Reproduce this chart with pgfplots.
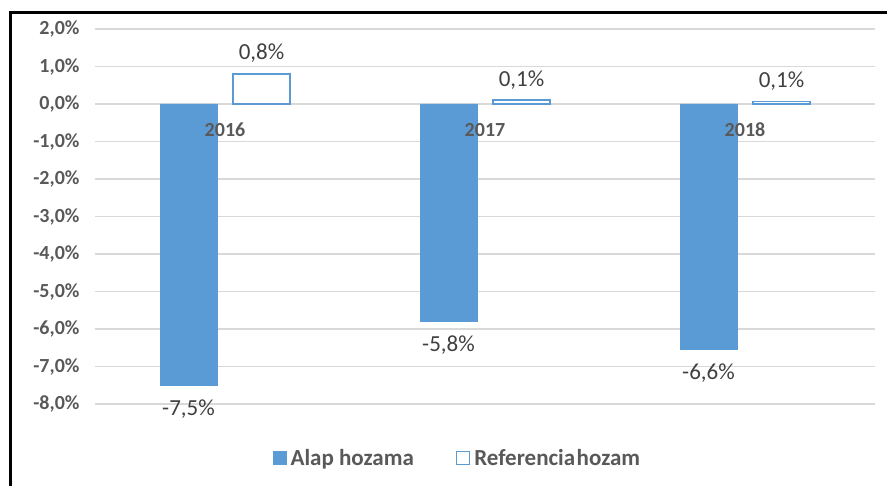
\documentclass[border=0pt]{standalone}
\usepackage{fontspec}
\setmainfont{Carlito}
\usepackage{pgfplots}
\pgfplotsset{compat=1.18}
\definecolor{barblue}{HTML}{5B9BD5}
\definecolor{txtgray}{HTML}{595959}
\definecolor{lblgray}{HTML}{404040}
\definecolor{gridgray}{HTML}{D9D9D9}

\begin{document}
\begin{tikzpicture}
\useasboundingbox (0bp,0bp) rectangle (887bp,486bp);
\draw[line width=3bp] (10bp,0bp) -- (10bp,473bp) -- (887bp,473bp);
\begin{axis}[
    at={(95bp,82bp)}, anchor=south west,
    scale only axis, width=780bp, height=375bp,
    ymin=-8, ymax=2, ytick={-8,-7,...,2},
    xmin=-0.5, xmax=2.5, xtick=\empty,
    ybar=16bp, bar width=57bp,
    axis line style={draw=none}, tick style={draw=none},
    ymajorgrids, grid style={gridgray, line width=1.5bp},
    yticklabel={\pgfmathprintnumber[fixed,fixed zerofill,precision=1,use comma,assume math mode=true]{\tick}\%},
    yticklabel style={font=\fontsize{20bp}{24bp}\selectfont\bfseries, text=txtgray, xshift=-12bp},
    point meta=explicit symbolic,
    nodes near coords,
    every node near coord/.append style={font=\fontsize{23bp}{27bp}\selectfont, text=lblgray},
    legend columns=2,
    legend style={at={(0.465,-0.144)}, anchor=center, draw=none,
        font=\fontsize{23bp}{27bp}\selectfont\bfseries, text=txtgray,
        /tikz/every odd column/.append style={column sep=2bp},
        /tikz/every even column/.append style={column sep=40bp}},
    legend image code/.code={\draw[#1] (0bp,-6.5bp) rectangle (13bp,6.5bp);},
]
% Alap hozama
\addplot[fill=barblue, draw=barblue,
    every node near coord/.append style={anchor=north, yshift=-11bp}] coordinates {
    (0,-7.5) [-7,5\%] (1,-5.8) [-5,8\%] (2,-6.55) [-6,6\%]
};
% Referenciahozam
\addplot[fill=white, draw=barblue, line width=1.5bp,
    every node near coord/.append style={anchor=south, yshift=7bp}] coordinates {
    (0,0.8) [0,8\%] (1,0.1) [0,1\%] (2,0.06) [0,1\%]
};
\legend{Alap hozama, Referencia\kern1.5bp hozam}
% category names, set over the bars just under the zero line
\foreach \i/\yr in {0/2016,1/2017,2/2018}{
    \edef\tmp{\noexpand\node[font=\noexpand\fontsize{20bp}{24bp}\noexpand\selectfont\noexpand\bfseries, text=txtgray, yshift=-26bp] at (axis cs:\i,0) {\yr};}
    \tmp
}
\end{axis}
\end{tikzpicture}
\end{document}
